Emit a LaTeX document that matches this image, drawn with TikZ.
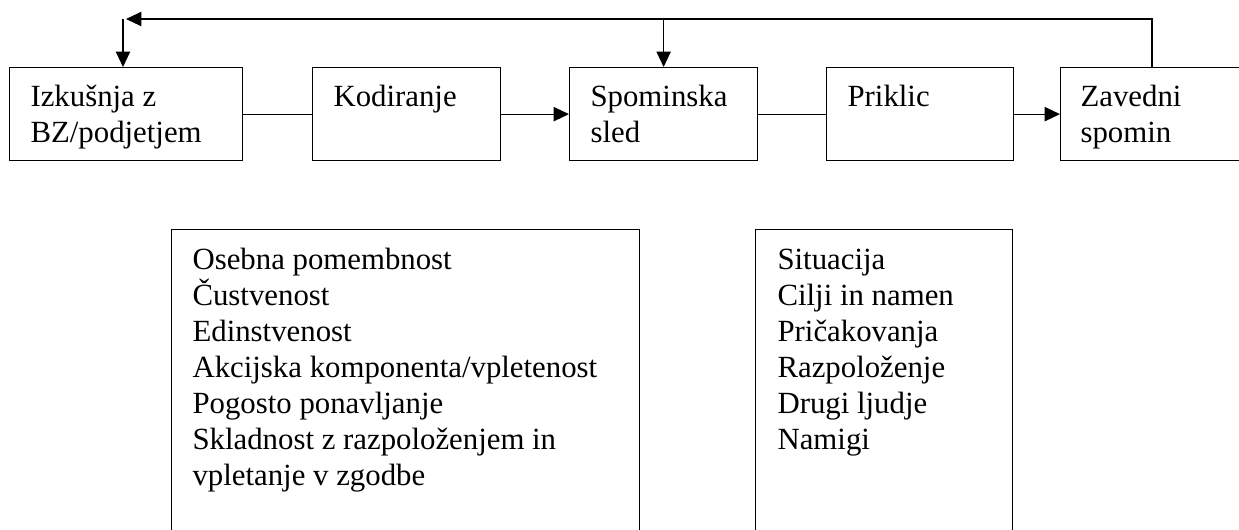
\documentclass[tikz,border=0pt]{standalone}
\usepackage{fontspec}
\setmainfont{Liberation Serif}
\usetikzlibrary{arrows.meta}
\newcommand{\boxfont}{\fontsize{11.2pt}{13.09pt}\selectfont\lineskiplimit=-20pt\relax\lineskip=0pt\relax}
\begin{document}
\begin{tikzpicture}[x=0.3636pt,y=-0.3636pt,
  box/.style={draw, line width=0.45pt, rectangle, inner sep=0pt, anchor=north west},
  txt/.style={anchor=north west, inner sep=0pt, align=left, font=\boxfont},
  conn/.style={line width=0.45pt},
  arr/.style={line width=0.45pt, -{Triangle[length=5.6pt,width=5.2pt]}}]
\useasboundingbox (0,0) rectangle (1239,529);
\clip (0,0) rectangle (1239,529);
% top row boxes
\node[box, minimum width=233*0.3636pt, minimum height=93*0.3636pt] (b1) at (9,67) {};
\node[box, minimum width=188*0.3636pt, minimum height=93*0.3636pt] (b2) at (312,67) {};
\node[box, minimum width=188*0.3636pt, minimum height=93*0.3636pt] (b3) at (569,67) {};
\node[box, minimum width=187*0.3636pt, minimum height=93*0.3636pt] (b4) at (826,67) {};
\node[box, minimum width=220*0.3636pt, minimum height=93*0.3636pt] (b5) at (1060,67) {};
% top row texts (north = baseline - 0.7*baselineskip)
\node[txt] (t1) at (30,80.8) {\strut Izkušnja z\\\strut BZ/podjetjem};
\node[txt] (t2) at (333,80.8) {\strut Kodiranje};
\node[txt] (t3) at (590,80.8) {\strut Spominska\\\strut sled};
\node[txt] (t4) at (847,80.8) {\strut Priklic};
\node[txt] (t5) at (1080,80.8) {\strut Zavedni\\\strut spomin};
% bottom boxes
\node[box, minimum width=468*0.3636pt, minimum height=340*0.3636pt] (ba) at (171,229) {};
\node[box, minimum width=257*0.3636pt, minimum height=340*0.3636pt] (bb) at (755,229) {};
\node[txt] (ta) at (192,243.8) {\strut Osebna pomembnost\\\strut Čustvenost\\\strut Edinstvenost\\\strut Akcijska komponenta/vpletenost\\\strut Pogosto ponavljanje\\\strut Skladnost z razpoloženjem in\\\strut vpletanje v zgodbe};
\node[txt] (tb) at (777,243.8) {\strut Situacija\\\strut Cilji in namen\\\strut Pričakovanja\\\strut Razpoloženje\\\strut Drugi ljudje\\\strut Namigi};
% connectors
\draw[conn] (b1.east) -- (b2.west);
\draw[arr] (b2.east) -- (b3.west);
\draw[conn] (b3.east) -- (b4.west);
\draw[arr] (b4.east) -- (b5.west);
% feedback loop
\coordinate (fbR) at (1152,19);
\coordinate (fbL) at (123,19);
\coordinate (fbTip) at (126,19);
\draw[arr] (b5.north -| fbR) -- (fbR) -- (fbTip);
\draw[arr] (fbL) -- (fbL |- b1.north);
\draw[arr] (b3.north |- fbR) -- (b3.north);
\end{tikzpicture}
\end{document}
